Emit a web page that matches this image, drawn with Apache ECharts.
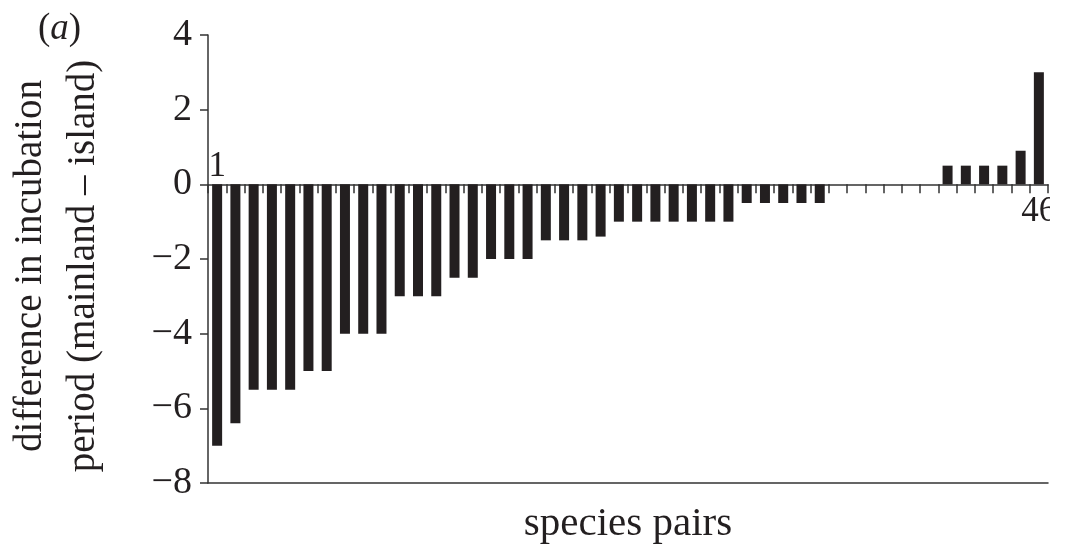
<!DOCTYPE html>
<html>
<head>
<meta charset="utf-8">
<script src="https://cdn.jsdelivr.net/npm/echarts@6/dist/echarts.min.js"></script>
<style>
  html, body { margin: 0; padding: 0; background: #ffffff; }
  #chart { width: 1050px; height: 547px; }
</style>
</head>
<body>
<div id="chart"></div>
<script>
// ---- data ----
const categories = ['1','2','3','4','5','6','7','8','9','10','11','12','13','14','15','16','17','18','19','20','21','22','23','24','25','26','27','28','29','30','31','32','33','34','35','36','37','38','39','40','41','42','43','44','45','46'];
const differences = [-7, -6.4, -5.5, -5.5, -5.5, -5, -5, -4, -4, -4, -3, -3, -3, -2.5, -2.5, -2, -2, -2, -1.5, -1.5, -1.5, -1.4, -1, -1, -1, -1, -1, -1, -1, -0.5, -0.5, -0.5, -0.5, -0.5, 0, 0, 0, 0, 0, 0, 0.5, 0.5, 0.5, 0.5, 0.9, 3];
const yTickValues = [4, 2, 0, -2, -4, -6, -8];
const yTickLabels = ['4', '2', '0', '\u22122', '\u22124', '\u22126', '\u22128'];
const labelledPairs = ['1', '46'];
const yTitle = 'difference in incubation\nperiod (mainland \u2013 island)';
const xTitle = 'species pairs';
const panelLabel = 'a';

const INK = '#231f20';
const AXIS = '#333333';
const FONT = 'Liberation Serif';

const seriesData = differences.map(function (v, i) {
  const item = { value: v };
  const cat = categories[i];
  if (labelledPairs.indexOf(cat) >= 0) {
    item.label = {
      show: true,
      formatter: cat,
      position: v < 0 ? 'top' : 'bottom',
      distance: v < 0 ? 0 : 10,
      fontFamily: FONT,
      fontSize: 35,
      color: INK
    };
  }
  return item;
});

const chart = echarts.init(document.getElementById('chart'), null, { renderer: 'canvas' });
chart.setOption({
  animation: false,
  backgroundColor: '#ffffff',
  title: {
    text: '({i|' + panelLabel + '})',
    left: 33,
    top: 6,
    textStyle: {
      fontFamily: FONT,
      fontSize: 37,
      fontWeight: 'normal',
      color: INK,
      rich: { i: { fontFamily: FONT, fontSize: 37, fontStyle: 'italic', color: INK } }
    }
  },
  grid: { left: 208, right: 2, top: 35, bottom: 64, containLabel: false, outerBoundsMode: 'none' },
  xAxis: [
    {
      type: 'category',
      data: categories,
      position: 'bottom',
      axisLine: { show: true, onZero: true, lineStyle: { color: AXIS, width: 1.5 } },
      axisTick: { show: true, length: 9, alignWithLabel: false, lineStyle: { color: AXIS, width: 1.5 } },
      axisLabel: { show: false },
      splitLine: { show: false }
    },
    {
      type: 'category',
      data: categories,
      position: 'bottom',
      axisLine: { show: true, onZero: false, lineStyle: { color: AXIS, width: 1.5 } },
      axisTick: { show: false },
      axisLabel: { show: false },
      splitLine: { show: false },
      name: xTitle,
      nameLocation: 'middle',
      nameGap: 21,
      nameTextStyle: { fontFamily: FONT, fontSize: 41, color: INK }
    }
  ],
  yAxis: {
    type: 'value',
    min: -8,
    max: 4,
    interval: 2,
    axisLine: { show: true, onZero: false, lineStyle: { color: AXIS, width: 1.5 } },
    axisTick: { show: true, length: 8, lineStyle: { color: AXIS, width: 1.5 } },
    splitLine: { show: false },
    axisLabel: {
      margin: 16,
      fontFamily: FONT,
      fontSize: 38,
      color: INK,
      formatter: function (v) {
        const k = yTickValues.indexOf(v);
        return k >= 0 ? yTickLabels[k] : '';
      }
    },
    name: yTitle,
    nameLocation: 'middle',
    nameRotate: 90,
    nameGap: 98,
    nameTextStyle: { fontFamily: FONT, fontSize: 39, lineHeight: 53, color: INK, align: 'center', padding: [0, 14, 0, 0] }
  },
  series: [
    {
      type: 'bar',
      xAxisIndex: 0,
      data: seriesData,
      barWidth: 10,
      itemStyle: { color: INK },
      label: { show: false }
    }
  ]
});
</script>
</body>
</html>
